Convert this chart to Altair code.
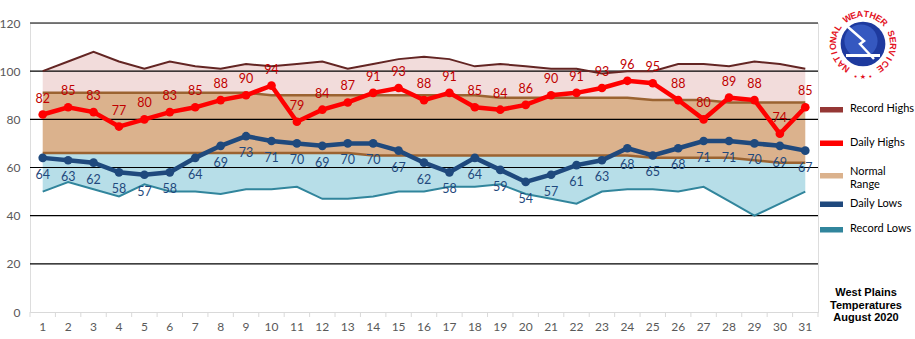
import math
import altair as alt
import pandas as pd

# ---------------- data ----------------
days = list(range(1, 32))
daily_highs = [82, 85, 83, 77, 80, 83, 85, 88, 90, 94, 79, 84, 87, 91, 93, 88,
               91, 85, 84, 86, 90, 91, 93, 96, 95, 88, 80, 89, 88, 74, 85]
daily_lows = [64, 63, 62, 58, 57, 58, 64, 69, 73, 71, 70, 69, 70, 70, 67, 62,
              58, 64, 59, 54, 57, 61, 63, 68, 65, 68, 71, 71, 70, 69, 67]
record_highs = [100, 104, 108, 104, 101, 104, 102, 101, 103, 102, 103, 104, 101, 103, 105, 106,
                105, 102, 103, 102, 101, 101, 99, 100, 100, 103, 103, 102, 104, 103, 101]
normal_highs = [91, 91, 91, 91, 91, 91, 91, 91, 91, 90, 90, 90, 90, 90, 90, 90,
                90, 90, 89, 89, 89, 89, 89, 89, 88, 88, 88, 87, 87, 87, 87]
normal_lows = [66, 66, 66, 66, 66, 66, 66, 66, 66, 66, 66, 66, 66, 65, 65, 65,
               65, 65, 65, 65, 65, 65, 65, 65, 64, 64, 64, 64, 63, 62, 62]
record_lows = [50, 54, 51, 48, 53, 50, 50, 49, 51, 51, 52, 47, 47, 48, 50, 50,
               52, 52, 53, 49, 47, 45, 50, 51, 51, 50, 52, 46, 40, 45, 50]
y_ticks = [0, 20, 40, 60, 80, 100, 120]

legend_names = ["Record Highs", "Daily Highs", "Normal Range", "Daily Lows", "Record Lows"]
title_lines = ["West Plains", "Temperatures", "August 2020"]
logo_text = "NATIONAL WEATHER SERVICE"

# ---------------- styles ----------------
C_REC_HI_FILL = "#F2DCDB"
C_REC_HI_LINE = "#632523"
C_NORM_FILL = "#DBB28D"
C_NORM_LINE = "#9B6331"
C_REC_LO_FILL = "#B7DEE8"
C_REC_LO_LINE = "#31859C"
C_HI = "#FF0000"
C_HI_LBL = "#C00000"
C_LO = "#1F497D"
FONT = "Lato"

W, H = 788, 289
X_DOM = [0.5, 31.5]

df = pd.DataFrame({
    "day": days, "hi": daily_highs, "lo": daily_lows, "rhi": record_highs,
    "nhi": normal_highs, "nlo": normal_lows, "rlo": record_lows,
})

xs = alt.Scale(domain=X_DOM, nice=False, zero=False)
ys = alt.Scale(domain=[0, 120], nice=False)

x_enc = alt.X("day:Q", scale=xs, axis=alt.Axis(
    title=None, grid=False, ticks=False, labels=False, domainColor="#D9D9D9",
    domainWidth=1, zindex=1))

def xq(field="day"):
    return alt.X(f"{field}:Q", scale=xs)

def yq(field):
    return alt.Y(f"{field}:Q", scale=ys)

base = alt.Chart(df)

area_hi = base.mark_area(color=C_REC_HI_FILL, opacity=1).encode(
    x=x_enc,
    y=alt.Y("rhi:Q", scale=ys, axis=alt.Axis(
        values=y_ticks, title=None, grid=False, ticks=False, domain=False,
        labelColor="#595959", labelFont=FONT, labelFontSize=12, labelPadding=10,
        labelOverlap=False)),
    y2="nhi:Q")
area_norm = base.mark_area(color=C_NORM_FILL, opacity=1).encode(
    x=xq(), y=yq("nhi"), y2="nlo:Q")
area_lo = base.mark_area(color=C_REC_LO_FILL, opacity=1).encode(
    x=xq(), y=yq("nlo"), y2="rlo:Q")

grid = alt.Chart(pd.DataFrame({"v": y_ticks[1:]})).mark_rule(
    color="#000000", strokeWidth=1.2).encode(
    y=yq("v"), x=alt.value(0), x2=alt.value(W))

x_ticks = alt.Chart(pd.DataFrame({"b": [d - 0.5 for d in days] + [days[-1] + 0.5]})).mark_rule(
    color="#D9D9D9", strokeWidth=1).encode(
    x=xq("b"), y=alt.value(H), y2=alt.value(H + 5))

x_labels = base.mark_text(color="#595959", font=FONT, fontSize=12, baseline="middle").encode(
    x=xq(), y=alt.value(H + 15), text="day:Q")

def line(field, color, width):
    return base.mark_line(color=color, strokeWidth=width).encode(x=xq(), y=yq(field))

l_rhi = line("rhi", C_REC_HI_LINE, 2)
l_nhi = line("nhi", C_NORM_LINE, 2.5)
l_nlo = line("nlo", C_NORM_LINE, 2.5)
l_rlo = line("rlo", C_REC_LO_LINE, 2)

l_hi = base.mark_line(color=C_HI, strokeWidth=4.5, point=alt.OverlayMarkDef(
    color=C_HI, size=75, filled=True, opacity=1)).encode(x=xq(), y=yq("hi"))
l_lo = base.mark_line(color=C_LO, strokeWidth=4.5, point=alt.OverlayMarkDef(
    color=C_LO, size=75, filled=True, opacity=1)).encode(x=xq(), y=yq("lo"))

t_hi = base.mark_text(color=C_HI_LBL, font=FONT, fontSize=12.5, dy=-16, baseline="middle").encode(
    x=xq(), y=yq("hi"), text="hi:Q")
t_lo = base.mark_text(color=C_LO, font=FONT, fontSize=12.5, dy=17, baseline="middle").encode(
    x=xq(), y=yq("lo"), text="lo:Q")

# ---------------- legend (drawn manually at right) ----------------
leg_colors = ["#953735", "#FF0000", "#DBB28D", "#1F497D", "#31859C"]
leg_sw_y = [84, 117.5, 150, 178.5, 204]
leg_txt = [["Record Highs"], ["Daily Highs"], ["Normal", "Range"], ["Daily Lows"], ["Record Lows"]]
leg_txt_y = [86, 119.5, 149, 181.3, 206.3]
leg_df = pd.DataFrame({"name": legend_names, "c": leg_colors, "sy": leg_sw_y,
                       "t": leg_txt, "ty": leg_txt_y})
leg_sw = alt.Chart(leg_df).mark_rect().encode(
    x=alt.value(790), x2=alt.value(813),
    y=alt.Y("sy:Q", scale=None), y2=alt.Y2("sy2:Q"),
    color=alt.Color("c:N", scale=None)).transform_calculate(sy2="datum.sy + 5.5")
leg_tx = alt.Chart(leg_df).mark_text(
    align="left", baseline="middle", font=FONT, fontSize=11, color="#000000",
    lineHeight=13).encode(
    x=alt.value(820), y=alt.Y("ty:Q", scale=None), text="t")

title = alt.Chart(pd.DataFrame({"t": [title_lines]})).mark_text(
    align="center", baseline="middle", font="Liberation Sans", fontSize=11,
    fontWeight="bold", color="#000000", lineHeight=12.7).encode(
    x=alt.value(836), y=alt.value(270), text="t")

# ---------------- NWS logo (approximation) ----------------
cx, cy, r = 833, 21, 30
n = len(logo_text)
a0, a1 = -145.0, 145.0
rows = []
for i, ch in enumerate(logo_text):
    a = a0 + (a1 - a0) * i / (n - 1)
    rad = math.radians(a)
    rows.append({"ch": ch, "px": cx + r * math.sin(rad), "py": cy - r * math.cos(rad),
                 "ang": a % 360})
logo_df = pd.DataFrame(rows)
logo_letters = alt.Chart(logo_df).mark_text(
    font="Liberation Sans", fontSize=9, fontWeight="bold", color="#E3101E",
    baseline="middle", align="center").encode(
    x=alt.X("px:Q", scale=None), y=alt.Y("py:Q", scale=None),
    angle=alt.Angle("ang:Q", scale=None), text="ch:N")
logo_disc = alt.Chart(pd.DataFrame({"k": [1]})).mark_point(
    shape="circle", filled=True, size=2000, color="#1E3A9E", opacity=1).encode(
    x=alt.value(cx), y=alt.value(cy))
logo_inner = alt.Chart(pd.DataFrame({"k": [1]})).mark_point(
    shape="circle", filled=True, size=1100, color="#3558C0", opacity=1).encode(
    x=alt.value(cx - 2), y=alt.value(cy - 3))
logo_wave = alt.Chart(pd.DataFrame({"k": [1]})).mark_rect(color="#FFFFFF").encode(
    x=alt.value(cx - 17), x2=alt.value(cx + 17), y=alt.value(cy + 10), y2=alt.value(cy + 13))
bolt_df = pd.DataFrame({"o": [0, 1, 2, 3],
                        "bx": [cx - 15, cx + 1, cx - 3, cx + 11],
                        "by": [cy - 17, cy - 3, cy + 0, cy + 15]})
logo_bolt = alt.Chart(bolt_df).mark_line(color="#FFFFFF", strokeWidth=2.5).encode(
    x=alt.X("bx:Q", scale=None), y=alt.Y("by:Q", scale=None), order="o:Q")
logo_stars = alt.Chart(pd.DataFrame({"t": ["•  ★  •"]})).mark_text(
    font="DejaVu Sans", fontSize=7, color="#E3101E", baseline="middle").encode(
    x=alt.value(cx), y=alt.value(cy + 33), text="t")

chart = alt.layer(
    area_hi, area_norm, area_lo, grid, l_rhi, l_nhi, l_nlo, l_rlo, x_ticks, x_labels,
    l_hi, l_lo, t_hi, t_lo, leg_sw, leg_tx, title,
    logo_disc, logo_inner, logo_wave, logo_bolt, logo_letters, logo_stars,
).properties(
    width=W, height=H, autosize="none",
    padding={"left": 30, "top": 23, "right": 97, "bottom": 27},
).configure_view(stroke=None, clip=False).configure(background="#FFFFFF")

chart.save("out.html", embed_options={"renderer": "svg", "actions": False})
